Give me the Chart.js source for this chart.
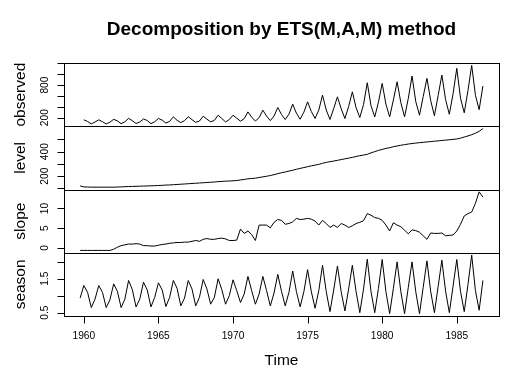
<!DOCTYPE html>
<html>
<head>
<meta charset="utf-8">
<script src="https://cdn.jsdelivr.net/npm/chart.js@4.4.1/dist/chart.umd.min.js"></script>
<style>
  html, body { margin: 0; padding: 0; background: #ffffff; }
  canvas { display: block; }
</style>
</head>
<body>
<canvas id="c" width="526" height="392" style="width:526px;height:392px"></canvas>
<script>
// ---- time index (quarterly ts, states start one quarter before the data) ----
const startYear = 1959.75;
const frequency = 4;

// ---- observed (1960 Q1 .. 1986 Q4) ----
const observed = [
  160.1,129.7,84.8,120.1,
  160.1,124.9,84.8,116.9,
  169.7,140.9,89.7,123.3,
  187.3,144.1,92.9,120.1,
  176.1,147.3,89.7,123.3,
  185.7,155.3,99.3,131.3,
  214.5,150.5,108.9,145.7,
  217.7,162.5,113.7,138.1,
  227.3,172.1,122.5,150.5,
  245,185,120,165,
  245,190,135,182,
  306,208,137,200,
  337,229,145,230,
  387,258,165,265,
  449,282,171,302,
  491,312,184,340,
  615,341,166,369,
  584,365,184,405,
  676,384,203,444,
  843,420,214,486,
  831,449,214,526,
  861,477,214,555,
  967,498,245,590,
  924,516,235,608,
  985,532,262,639,
  1109,559,290,701,
  1163.9,613.1,347.4,782.8
];

// ---- level state (1959 Q4 .. 1986 Q4) ----
const level = [
  120,
  112,111,110,110,
  110,110,110,110,
  110,111,112,114,
  115,116,117,118,
  119,120,121,122,
  124,125,127,128,
  130,132,134,136,
  138,140,142,144,
  146,148,150,152,
  155,157,159,160,
  162,164,169,173,
  178,181,183,189,
  194,199,205,212,
  220,228,234,241,
  248,256,263,270,
  277,284,290,296,
  305,312,318,323,
  329,335,341,347,
  353,360,367,372,
  378,390,400,410,
  418,426,432,440,
  446,452,457,462,
  466,470,473,476,
  479,482,485,488,
  491,494,497,500,
  503,510,519,528,
  538,550,566,588
];

// ---- slope state ----
const slope = [
  -0.6,
  -0.6,-0.6,-0.6,-0.6,
  -0.6,-0.6,-0.6,-0.6,
  -0.3,0.2,0.6,0.8,
  1.0,1.0,1.1,1.0,
  0.6,0.6,0.5,0.5,
  0.7,0.9,1.0,1.2,
  1.3,1.4,1.4,1.5,
  1.5,1.7,1.9,1.7,
  2.2,2.4,2.2,2.2,
  2.4,2.5,2.3,1.9,
  1.9,2.0,4.8,3.7,
  4.3,3.4,1.9,5.8,
  5.8,5.8,5.1,6.5,
  7.2,7.0,6.0,6.2,
  6.6,7.5,7.2,7.3,
  7.5,7.3,6.8,5.8,
  7.0,6.2,5.2,5.8,
  5.2,6.2,5.8,5.2,
  5.6,6.2,6.5,6.9,
  8.7,8.3,7.7,7.5,
  7.0,5.8,4.3,6.4,
  5.8,5.4,4.5,3.6,
  4.6,4.4,4.0,3.1,
  2.2,3.8,3.7,3.7,
  3.8,3.1,3.2,3.3,
  4.3,6.0,8.1,8.7,
  9.1,11.3,14.2,12.9
];

// ---- season state ----
const season = [
  0.93,
  1.30,1.10,0.65,0.90,
  1.30,1.10,0.65,0.88,
  1.35,1.13,0.65,0.90,
  1.45,1.18,0.67,0.90,
  1.40,1.17,0.67,0.95,
  1.38,1.17,0.68,0.95,
  1.45,1.22,0.70,0.93,
  1.45,1.20,0.70,0.95,
  1.48,1.20,0.75,0.95,
  1.50,1.18,0.75,1.00,
  1.47,1.15,0.80,1.05,
  1.57,1.15,0.75,1.05,
  1.57,1.15,0.70,1.08,
  1.63,1.13,0.70,1.10,
  1.73,1.12,0.67,1.12,
  1.77,1.12,0.63,1.15,
  1.90,1.12,0.53,1.17,
  1.88,1.12,0.55,1.20,
  1.90,1.12,0.50,1.20,
  2.08,1.12,0.50,1.22,
  2.07,1.12,0.47,1.22,
  2.00,1.12,0.47,1.25,
  2.00,1.12,0.47,1.25,
  2.03,1.13,0.50,1.27,
  2.05,1.13,0.50,1.28,
  2.07,1.13,0.53,1.33,
  2.20,1.15,0.57,1.45
];

// ---- tick values / labels ----
const obsTicks = [200,400,600,800,1000,1200];
const obsTickLabels = ['200','','','800','',''];
const levelTicks = [100,200,300,400,500];
const levelTickLabels = ['','200','','400',''];
const slopeTicks = [0,5,10];
const slopeTickLabels = ['0','5','10'];
const seasonTicks = [0.5,1.0,1.5,2.0];
const seasonTickLabels = ['0.5','','1.5',''];
const yearTicks = [1960,1965,1970,1975,1980,1985];
const yearTickLabels = ['1960','1965','1970','1975','1980','1985'];

const panelTitles = ['observed','level','slope','season'];
const mainTitle = 'Decomposition by ETS(M,A,M) method';
const xTitle = 'Time';

// ---- build series for the library ----
const nStates = level.length;
const times = [];
for (let i = 0; i < nStates; i++) times.push(startYear + i / frequency);
const obsOffset = nStates - observed.length; // observed is NA at the first state time
const toPts = (vals, off) => vals.map((v, i) => ({x: times[i + off], y: v}));

function paddedRange(vals) {
  const lo = Math.min(...vals), hi = Math.max(...vals);
  const d = (hi - lo) * 0.04;
  return {min: lo - d, max: hi + d};
}
const xr = paddedRange(times);

const FONT = '"Liberation Sans", Arial, Helvetica, sans-serif';

function yScale(vals) {
  const r = paddedRange(vals);
  return {
    type: 'linear', position: 'left', stack: 'panels', stackWeight: 1,
    min: r.min, max: r.max, bounds: 'data',
    grid: {display: false}, border: {display: false},
    ticks: {display: false}, title: {display: false},
    afterFit: (s) => { s.width = 0; }
  };
}

const panels = [
  {id: 'yObs', ticks: obsTicks, labels: obsTickLabels, title: panelTitles[0]},
  {id: 'yLevel', ticks: levelTicks, labels: levelTickLabels, title: panelTitles[1]},
  {id: 'ySlope', ticks: slopeTicks, labels: slopeTickLabels, title: panelTitles[2]},
  {id: 'ySeason', ticks: seasonTicks, labels: seasonTickLabels, title: panelTitles[3]}
];

const framePlugin = {
  id: 'rframe',
  afterDraw(chart) {
    const ctx = chart.ctx;
    const a = chart.chartArea;
    const L = Math.round(a.left) + 0.5, R = Math.round(a.right) + 0.5;
    ctx.save();
    ctx.strokeStyle = '#000';
    ctx.fillStyle = '#000';
    ctx.lineWidth = 1;
    panels.forEach((p) => {
      const s = chart.scales[p.id];
      const top = Math.round(s.top) + 0.5, bot = Math.round(s.bottom) + 0.5;
      ctx.strokeRect(L, top, R - L, bot - top);
      ctx.font = '10.2px ' + FONT;
      ctx.textAlign = 'center';
      ctx.textBaseline = 'alphabetic';
      p.ticks.forEach((v, i) => {
        if (v < s.min || v > s.max) return;
        const y = Math.round(s.getPixelForValue(v)) + 0.5;
        ctx.beginPath();
        ctx.moveTo(L - 7, y);
        ctx.lineTo(L, y);
        ctx.stroke();
        if (p.labels[i]) {
          ctx.save();
          ctx.translate(48, s.getPixelForValue(v));
          ctx.rotate(-Math.PI / 2);
          ctx.fillText(p.labels[i], 0, 0);
          ctx.restore();
        }
      });
      ctx.save();
      ctx.font = '15.5px ' + FONT;
      ctx.translate(25, (s.top + s.bottom) / 2);
      ctx.rotate(-Math.PI / 2);
      ctx.fillText(p.title, 0, 0);
      ctx.restore();
    });
    // x axis
    const xs = chart.scales.x;
    const B = Math.round(a.bottom) + 0.5;
    ctx.font = '10.2px ' + FONT;
    ctx.textAlign = 'center';
    yearTicks.forEach((v, i) => {
      const x = Math.round(xs.getPixelForValue(v)) + 0.5;
      ctx.beginPath();
      ctx.moveTo(x, B);
      ctx.lineTo(x, B + 7);
      ctx.stroke();
      ctx.fillText(yearTickLabels[i], xs.getPixelForValue(v), 338.5);
    });
    ctx.font = '15.5px ' + FONT;
    ctx.fillText(xTitle, (a.left + a.right) / 2, 365);
    ctx.font = 'bold 19px ' + FONT;
    ctx.fillText(mainTitle, (a.left + a.right) / 2, 35);
    ctx.restore();
  }
};

const lineStyle = {borderColor: '#000', borderWidth: 1, pointRadius: 0, tension: 0, fill: false};

// stacked left scales are laid out last-defined on top, so define bottom panel first
new Chart(document.getElementById('c'), {
  type: 'line',
  data: {
    datasets: [
      Object.assign({label: panelTitles[0], data: toPts(observed, obsOffset), yAxisID: 'yObs'}, lineStyle),
      Object.assign({label: panelTitles[1], data: toPts(level, 0), yAxisID: 'yLevel'}, lineStyle),
      Object.assign({label: panelTitles[2], data: toPts(slope, 0), yAxisID: 'ySlope'}, lineStyle),
      Object.assign({label: panelTitles[3], data: toPts(season, 0), yAxisID: 'ySeason'}, lineStyle)
    ]
  },
  options: {
    responsive: false,
    animation: false,
    devicePixelRatio: 1,
    layout: {padding: {left: 64, right: 27, top: 63, bottom: 76}},
    plugins: {legend: {display: false}, tooltip: {enabled: false}, title: {display: false}},
    scales: {
      x: {
        type: 'linear', min: xr.min, max: xr.max, bounds: 'data',
        grid: {display: false}, border: {display: false},
        ticks: {display: false}, title: {display: false},
        afterFit: (s) => { s.height = 0; }
      },
      ySeason: yScale(season),
      ySlope: yScale(slope),
      yLevel: yScale(level),
      yObs: yScale(observed)
    }
  },
  plugins: [framePlugin]
});
</script>
</body>
</html>
